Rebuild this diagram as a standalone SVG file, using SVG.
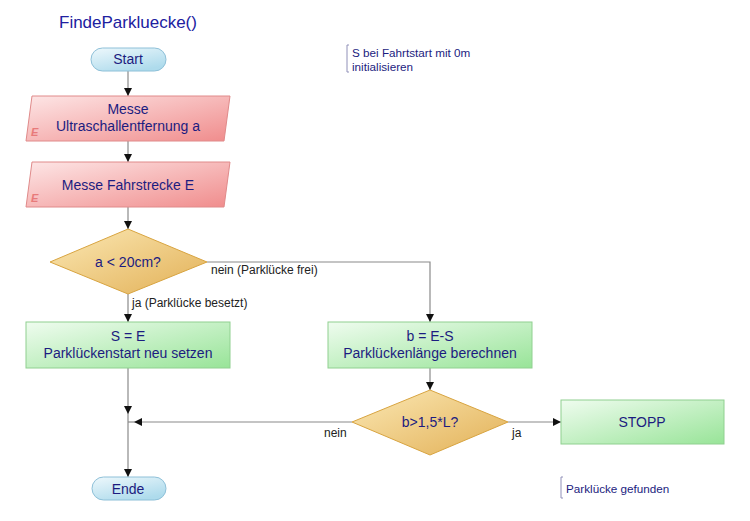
<svg xmlns="http://www.w3.org/2000/svg" width="750" height="521" viewBox="0 0 750 521">
<defs>
<linearGradient id="gPink" x1="0" y1="0" x2="1" y2="1"><stop offset="0" stop-color="#fde6e6"/><stop offset="1" stop-color="#f08c8c"/></linearGradient>
<linearGradient id="gGreen" x1="0" y1="0" x2="1" y2="1"><stop offset="0" stop-color="#effcef"/><stop offset="1" stop-color="#98e498"/></linearGradient>
<linearGradient id="gGold" x1="0" y1="0" x2="1" y2="1"><stop offset="0" stop-color="#fbe8b4"/><stop offset="1" stop-color="#e2b056"/></linearGradient>
<linearGradient id="gBlue" x1="0" y1="0" x2="0.6" y2="1"><stop offset="0" stop-color="#eef8fc"/><stop offset="1" stop-color="#aedbec"/></linearGradient>
<marker id="arr" viewBox="0 0 10 10" refX="10" refY="5" markerWidth="8" markerHeight="8" markerUnits="userSpaceOnUse" orient="auto"><path d="M0,0 L10,5 L0,10 z" fill="#111"/></marker>
</defs>
<style>
.t{font-family:"Liberation Sans",Arial,sans-serif;font-size:14px;fill:#1c1c80;text-anchor:middle}
.lbl{font-family:"Liberation Sans",Arial,sans-serif;font-size:12px;fill:#222}
.ann{font-family:"Liberation Sans",Arial,sans-serif;font-size:11.7px;fill:#1c1c80}
.pink{fill:url(#gPink);stroke:#e08a8a;stroke-width:1}
.green{fill:url(#gGreen);stroke:#90d090;stroke-width:1}
.gold{fill:url(#gGold);stroke:#d8a440;stroke-width:1}
.pill{fill:url(#gBlue);stroke:#8ec0d8;stroke-width:1}
.c{fill:none;stroke:#8a8a8a;stroke-width:1.2}
.e{font-family:"Liberation Sans",Arial,sans-serif;font-size:11px;font-style:italic;font-weight:bold;fill:#e87a7a}
.br{fill:none;stroke:#9090b8;stroke-width:1}
</style>
<rect width="750" height="521" fill="#fff"/>
<text x="59" y="28" style="font-family:'Liberation Sans',Arial,sans-serif;font-size:17px;fill:#2020a0">FindeParkluecke()</text>

<g id="connectors">
<path class="c" d="M128,71 V96" marker-end="url(#arr)"/>
<path class="c" d="M128,141 V162" marker-end="url(#arr)"/>
<path class="c" d="M128,207 V229" marker-end="url(#arr)"/>
<path class="c" d="M128,294 V322" marker-end="url(#arr)"/>
<path class="c" d="M207,262 H430 V322" marker-end="url(#arr)"/>
<path class="c" d="M128,368 V414" marker-end="url(#arr)"/>
<path class="c" d="M128,414 V477" marker-end="url(#arr)"/>
<path class="c" d="M430,368 V390" marker-end="url(#arr)"/>
<path class="c" d="M352,422 H134" marker-end="url(#arr)"/>
<path class="c" d="M134,422 H128"/>
<path class="c" d="M508,422 H561" marker-end="url(#arr)"/>
<text class="lbl" x="211" y="274">nein (Parklücke frei)</text>
<text class="lbl" x="132" y="307">ja (Parklücke besetzt)</text>
<text class="lbl" x="324" y="437">nein</text>
<text class="lbl" x="512" y="437">ja</text>
</g>

<g id="start">
<rect class="pill" x="91" y="48" width="75" height="23" rx="11.5"/>
<text class="t" x="128" y="64">Start</text>
</g>

<g id="messe-ultraschall">
<polygon class="pink" points="32,96 230,96 224,141 26,141"/>
<text class="t" x="128" y="114">Messe</text>
<text class="t" x="128" y="131">Ultraschallentfernung a</text>
<text class="e" x="31" y="136">E</text>
</g>

<g id="messe-fahrstrecke">
<polygon class="pink" points="32,162 230,162 224,207 26,207"/>
<text class="t" x="128" y="190">Messe Fahrstrecke E</text>
<text class="e" x="31" y="202">E</text>
</g>

<g id="decision-a">
<polygon class="gold" points="128,229 207,262 128,294 50,262"/>
<text class="t" x="128" y="267">a &lt; 20cm?</text>
</g>

<g id="set-start">
<rect class="green" x="26" y="322" width="204" height="46"/>
<text class="t" x="128" y="341">S = E</text>
<text class="t" x="128" y="358">Parklückenstart neu setzen</text>
</g>

<g id="calc-length">
<rect class="green" x="328" y="322" width="204" height="46"/>
<text class="t" x="430" y="341">b = E-S</text>
<text class="t" x="430" y="358">Parklückenlänge berechnen</text>
</g>

<g id="decision-b">
<polygon class="gold" points="430,390 508,422 430,455 352,422"/>
<text class="t" x="430" y="427">b&gt;1,5*L?</text>
</g>

<g id="stopp">
<rect class="green" x="561" y="400" width="163" height="44"/>
<text class="t" x="642" y="427">STOPP</text>
</g>

<g id="ende">
<rect class="pill" x="92" y="477" width="74" height="23" rx="11.5"/>
<text class="t" x="128" y="494">Ende</text>
</g>

<g id="note-init">
<path class="br" d="M349,45 H347 V72 H349"/>
<text class="ann" x="352" y="57">S bei Fahrtstart mit 0m</text>
<text class="ann" x="352" y="71">initialisieren</text>
</g>

<g id="note-found">
<path class="br" d="M563,477 H561 V498 H563"/>
<text class="ann" x="566" y="493">Parklücke gefunden</text>
</g>
</svg>
